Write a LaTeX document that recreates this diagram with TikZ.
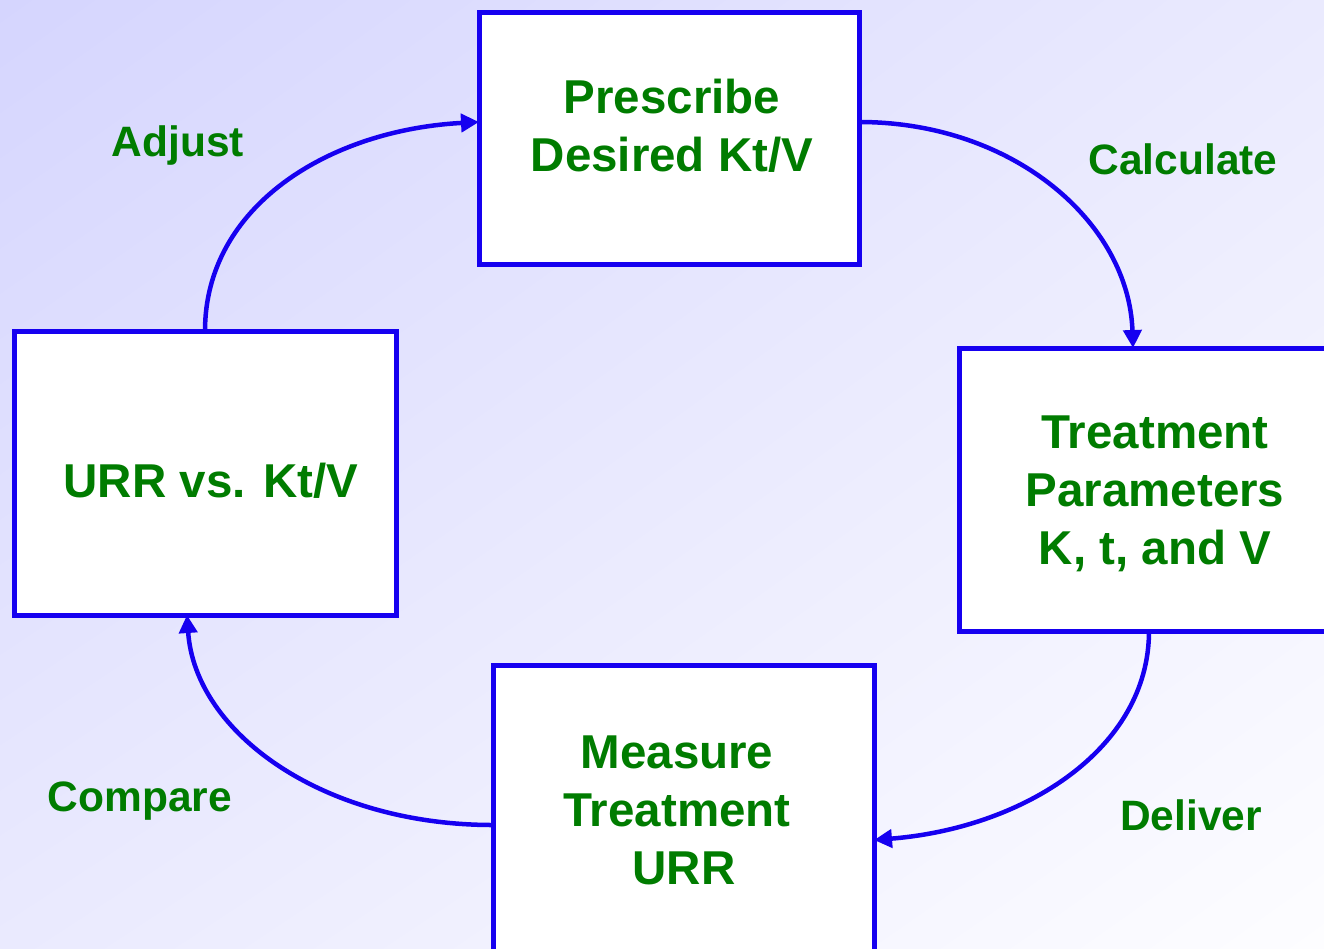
\documentclass[tikz,border=0pt]{standalone}
\usepackage{fontspec}
\setmainfont{Liberation Sans}
\usetikzlibrary{arrows.meta,shadings}
\definecolor{bgA}{RGB}{213,213,254}
\definecolor{bgM}{RGB}{234,234,254}
\definecolor{bgB}{RGB}{253,253,255}
\definecolor{boxblue}{RGB}{22,0,240}
\definecolor{txtgreen}{RGB}{0,124,0}
\tikzset{
  box/.style={draw=boxblue, line width=5pt, fill=white, inner sep=0pt, outer sep=0pt},
  boxtext/.style={text=txtgreen, font=\fontsize{47.5}{58}\selectfont\bfseries, align=center, inner sep=0pt},
  lbl/.style={text=txtgreen, font=\fontsize{42.5}{50}\selectfont\bfseries, inner sep=0pt},
  cyc/.style={draw=boxblue, line width=4.5pt, -{Triangle[length=18pt,width=18pt]}}
}
\begin{document}
\begin{tikzpicture}[x=1pt,y=-1pt]
\useasboundingbox (0,0) rectangle (1324,948);
\clip (0,0) rectangle (1324,948);
\shade[upper left=bgA, upper right=bgM, lower left=bgM, lower right=bgB] (0,0) rectangle (1324,948);

\node[box, minimum width=380pt, minimum height=252pt] (pres) at (669,138) {};
\node[box, minimum width=391pt, minimum height=283pt] (treat) at (1154.5,489.5) {};
\node[box, minimum width=381pt, minimum height=295pt] (meas) at (683.5,812.5) {};
\node[box, minimum width=382pt, minimum height=284pt] (urr) at (205,473) {};

\node[boxtext] (prestext) at (672,126) {Prescribe\\Desired Kt/V};
\node[boxtext] (treattext) at (1155,494) {Treatment\\Parameters\\K, t, and V};
\node[boxtext] (meastext) at (677,810) {Measure\\Treatment\\\hspace*{14pt}URR};
\node[boxtext] (urrtext) at (211,481) {URR vs. Kt/V};

\node[lbl] (adjust) at (178,146) {Adjust};
\node[lbl] (calc) at (1183,159) {Calculate};
\node[lbl] (deliver) at (1191,815) {Deliver};
\node[lbl] (compare) at (140,801) {Compare};

\draw[cyc] (urr.north) .. controls +(0,-125) and +(-150,8) .. ([yshift=16pt]pres.west);
\draw[cyc] ([yshift=16pt]pres.east) .. controls +(155,0) and +(-4,-125) .. ([xshift=-21.5pt]treat.north);
\draw[cyc] ([xshift=-5.5pt]treat.south) .. controls +(0,118) and +(150,-12) .. ([yshift=-27.5pt]meas.east);
\draw[cyc] ([yshift=-12.5pt]meas.west) .. controls +(-170,0) and +(8,118) .. ([xshift=-18pt]urr.south);
\end{tikzpicture}
\end{document}
